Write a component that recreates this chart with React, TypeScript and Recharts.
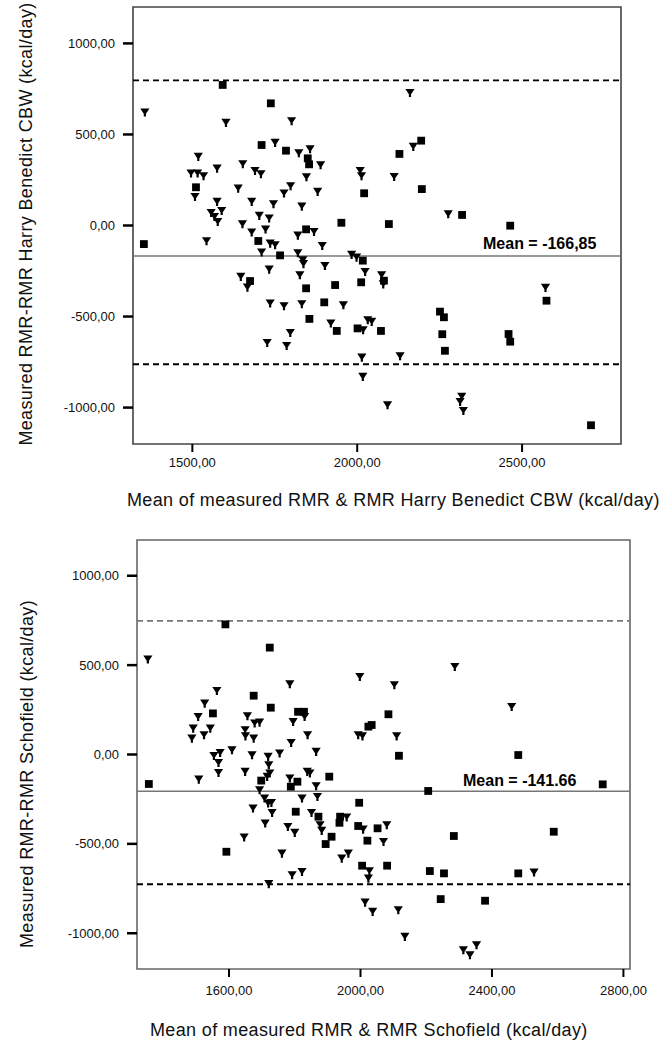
import React from 'react';
import { ScatterChart, Scatter, XAxis, YAxis, ReferenceLine, ReferenceArea } from 'recharts';

// Harris Benedict CBW chart (top)
const hbSquares: [number, number][] = [
  [1592, 772], [1738, 671], [1710, 442], [1784, 411], [1850, 369], [1854, 336], [1511, 210],
  [1353, -102], [1700, -85], [1766, -164], [1952, 15], [2021, 177], [2096, 8], [2128, 393],
  [2194, 466], [2196, 200], [2318, 58], [2464, -1], [1845, -21], [2017, -193], [2012, -312],
  [2081, -303], [1845, -345], [1675, -305], [1933, -327], [1900, -422], [1855, -513], [1938, -579],
  [2001, -565], [2072, -579], [2251, -473], [2263, -504], [2258, -597], [2266, -688], [2574, -413],
  [2459, -596], [2464, -638], [2709, -1097],
];
const hbTriangles: [number, number][] = [
  [1356, 622], [1602, 565], [1801, 574], [1751, 455], [1823, 398], [1857, 420], [1518, 378],
  [1496, 287], [1516, 287], [1534, 272], [1508, 158], [1575, 314], [1575, 131], [1557, 70],
  [1567, 48], [1577, 21], [1589, 81], [1543, -85], [1653, 338], [1690, 301], [1708, 283],
  [1639, 204], [1680, 131], [1746, 118], [1798, 217], [1778, 177], [1832, 105], [1703, 54],
  [1733, 40], [1652, 8], [1680, -37], [1722, -21], [1820, -54], [1736, -98], [1751, -107],
  [1710, -147], [1820, -151], [1889, 332], [1846, 266], [1880, 186], [2009, 301], [2013, 272],
  [2112, 268], [2160, 729], [2170, 433], [2276, 63], [1869, -34], [1894, -111], [1983, -160],
  [1998, -175], [1835, -190], [1837, -211], [1826, -272], [1902, -221], [2024, -254], [2074, -272],
  [2079, -322], [1647, -281], [1667, -340], [1733, -241], [1736, -427], [1778, -442], [1832, -431],
  [1958, -437], [1797, -589], [1727, -644], [1786, -660], [1920, -537], [2018, -574], [2032, -519],
  [2044, -528], [2014, -724], [2017, -830], [2130, -717], [2092, -986], [2317, -940], [2312, -968],
  [2322, -1017], [2571, -341],
];
const hbXTicks = [1500, 2000, 2500];
const hbMean = -166.85;
const hbUpper = 797;
const hbLower = -762;

// Schofield chart (bottom)
const scSquares: [number, number][] = [
  [1589, 728], [1724, 598], [1675, 329], [1551, 230], [1727, 262], [1810, 239], [1828, 239],
  [2085, 225], [2024, 156], [2034, 165], [2117, -7], [2480, -3], [1356, -165], [1698, -146],
  [1788, -180], [1808, -152], [1905, -124], [2206, -204], [1996, -270], [1803, -320], [1872, -348],
  [1938, -348], [1936, -382], [1993, -400], [2052, -413], [1912, -460], [1894, -501], [2021, -482],
  [1592, -544], [2005, -622], [2081, -622], [2211, -652], [2254, -665], [2284, -456], [2244, -809],
  [2379, -818], [2480, -665], [2588, -432], [2737, -167],
];
const scTriangles: [number, number][] = [
  [1353, 533], [1785, 394], [1563, 357], [1526, 286], [1506, 211], [1491, 146], [1487, 90],
  [1524, 109], [1543, 146], [1656, 215], [1678, 175], [1693, 180], [1649, 137], [1650, 103],
  [1675, 90], [1795, 183], [1830, 211], [1789, 66], [1839, 109], [1554, -7], [1573, 10],
  [1568, -46], [1568, -102], [1609, 25], [1670, -3], [1754, 7], [1719, -12], [1721, -59],
  [1724, -105], [1716, -124], [1649, -96], [1508, -139], [1785, -133], [1693, -199], [1838, -96],
  [2287, 491], [1998, 435], [2103, 389], [1993, 109], [2006, 103], [2110, 103], [1865, 16],
  [1846, -105], [1865, -176], [1869, -236], [2460, 267], [1708, -245], [1719, -273], [1729, -270],
  [1731, -326], [1673, -301], [1710, -385], [1646, -463], [1779, -404], [1800, -437], [1822, -245],
  [1761, -553], [1792, -674], [1822, -656], [1721, -724], [1851, -326], [1877, -394], [1882, -426],
  [1958, -351], [2008, -419], [2080, -394], [2070, -488], [1943, -581], [1963, -553], [2027, -652],
  [2024, -693], [2014, -827], [2037, -879], [2115, -870], [2135, -1019], [2313, -1094], [2333, -1122],
  [2353, -1066], [2528, -659],
];
const scXTicks = [1600, 2000, 2400, 2800];
const scMeanLine = -205;
const scUpper = 747;
const scLower = -726;

const yTicks = [-1000, -500, 0, 500, 1000];

const toPoints = (arr: [number, number][]) => arr.map(([x, y]) => ({ x, y }));
const fmt = (v: number) => `${v},00`;

const SquareMark = (p: any) => (
  <rect x={p.cx - 3.9} y={p.cy - 3.9} width={7.8} height={7.8} fill="#000" />
);

// downward triangle with a short stem, like the SPSS marker
const TriMark = (p: any) => {
  const { cx, cy } = p;
  return (
    <path
      d={`M${cx - 4.6},${cy - 3.8}L${cx + 4.6},${cy - 3.8}L${cx + 1.1},${cy + 1.6}L${cx + 1.1},${cy + 4.3}L${cx - 1.1},${cy + 4.3}L${cx - 1.1},${cy + 1.6}Z`}
      fill="#000"
    />
  );
};

const tickStyle = { fontSize: 13, fontFamily: 'Liberation Sans, Arial, sans-serif', fill: '#111' };
const titleStyle: React.CSSProperties = {
  position: 'absolute',
  fontFamily: 'Liberation Sans, Arial, sans-serif',
  fontSize: 18,
  lineHeight: '18px',
  letterSpacing: 0.35,
  whiteSpace: 'nowrap',
  color: '#111',
};
const meanStyle: React.CSSProperties = {
  position: 'absolute',
  fontFamily: 'Liberation Sans, Arial, sans-serif',
  fontSize: 16,
  fontWeight: 'bold',
  lineHeight: '16px',
  whiteSpace: 'nowrap',
  color: '#000',
};

interface PlotProps {
  width: number;
  height: number;
  margin: { top: number; right: number; bottom: number; left: number };
  xDomain: [number, number];
  xTicks: number[];
  squares: [number, number][];
  triangles: [number, number][];
  mean: number;
  upper: number;
  lower: number;
  frameColor: string;
  upperColor: string;
  xTickMargin: number;
}

const BlandAltman: React.FC<PlotProps> = (p) => (
  <ScatterChart width={p.width} height={p.height} margin={p.margin}>
    <XAxis
      type="number"
      dataKey="x"
      domain={p.xDomain}
      ticks={p.xTicks}
      tickFormatter={fmt}
      allowDataOverflow
      axisLine={false}
      tickSize={8}
      tickMargin={p.xTickMargin}
      tickLine={{ stroke: '#000', strokeWidth: 2 }}
      tick={tickStyle}
      height={40}
    />
    <YAxis
      type="number"
      dataKey="y"
      domain={[-1200, 1200]}
      ticks={yTicks}
      tickFormatter={fmt}
      allowDataOverflow
      axisLine={false}
      tickSize={10}
      tickMargin={8}
      tickLine={{ stroke: '#000', strokeWidth: 2.5 }}
      tick={tickStyle}
      width={80}
    />
    <ReferenceArea
      x1={p.xDomain[0]}
      x2={p.xDomain[1]}
      y1={-1200}
      y2={1200}
      fill="none"
      fillOpacity={0}
      stroke={p.frameColor}
      strokeWidth={1.6}
      ifOverflow="visible"
    />
    <ReferenceLine y={p.upper} stroke={p.upperColor} strokeWidth={1.8} strokeDasharray="6 4" />
    <ReferenceLine y={p.mean} stroke="#777" strokeWidth={1.5} />
    <ReferenceLine y={p.lower} stroke="#000" strokeWidth={1.8} strokeDasharray="6 4" />
    <Scatter data={toPoints(p.squares)} shape={SquareMark} isAnimationActive={false} />
    <Scatter data={toPoints(p.triangles)} shape={TriMark} isAnimationActive={false} />
  </ScatterChart>
);

export default function App() {
  return (
    <div style={{ position: 'absolute', left: 0, top: 0, width: 662, height: 1042, background: '#fff', overflow: 'hidden' }}>
      <div style={{ position: 'absolute', left: 0, top: 0 }}>
        <BlandAltman
          width={662}
          height={520}
          margin={{ top: 7, right: 41, bottom: 36, left: 53 }}
          xDomain={[1320, 2800]}
          xTicks={hbXTicks}
          squares={hbSquares}
          triangles={hbTriangles}
          mean={hbMean}
          upper={hbUpper}
          lower={hbLower}
          frameColor="#444"
          upperColor="#000"
          xTickMargin={6}
        />
      </div>
      <div style={{ position: 'absolute', left: 0, top: 520 }}>
        <BlandAltman
          width={662}
          height={522}
          margin={{ top: 20, right: 32, bottom: 33, left: 57 }}
          xDomain={[1320, 2820]}
          xTicks={scXTicks}
          squares={scSquares}
          triangles={scTriangles}
          mean={scMeanLine}
          upper={scUpper}
          lower={scLower}
          frameColor="#666"
          upperColor="#777"
          xTickMargin={9}
        />
      </div>

      <div style={{ ...meanStyle, left: 483, top: 236 }}>Mean = -166,85</div>
      <div style={{ ...meanStyle, left: 463, top: 773 }}>Mean = -141.66</div>

      <div style={{ ...titleStyle, left: 127, top: 491 }}>
        Mean of measured RMR &amp; RMR Harry Benedict CBW (kcal/day)
      </div>
      <div style={{ ...titleStyle, left: 150, top: 1021 }}>
        Mean of measured RMR &amp; RMR Schofield (kcal/day)
      </div>
      <div style={{ ...titleStyle, left: 26, top: 224, transform: 'translate(-50%, -50%) rotate(-90deg)' }}>
        Measured RMR-RMR Harry Benedict CBW (kcal/day)
      </div>
      <div style={{ ...titleStyle, left: 27, top: 774, transform: 'translate(-50%, -50%) rotate(-90deg)' }}>
        Measured RMR-RMR Schofield (kcal/day)
      </div>
    </div>
  );
}
